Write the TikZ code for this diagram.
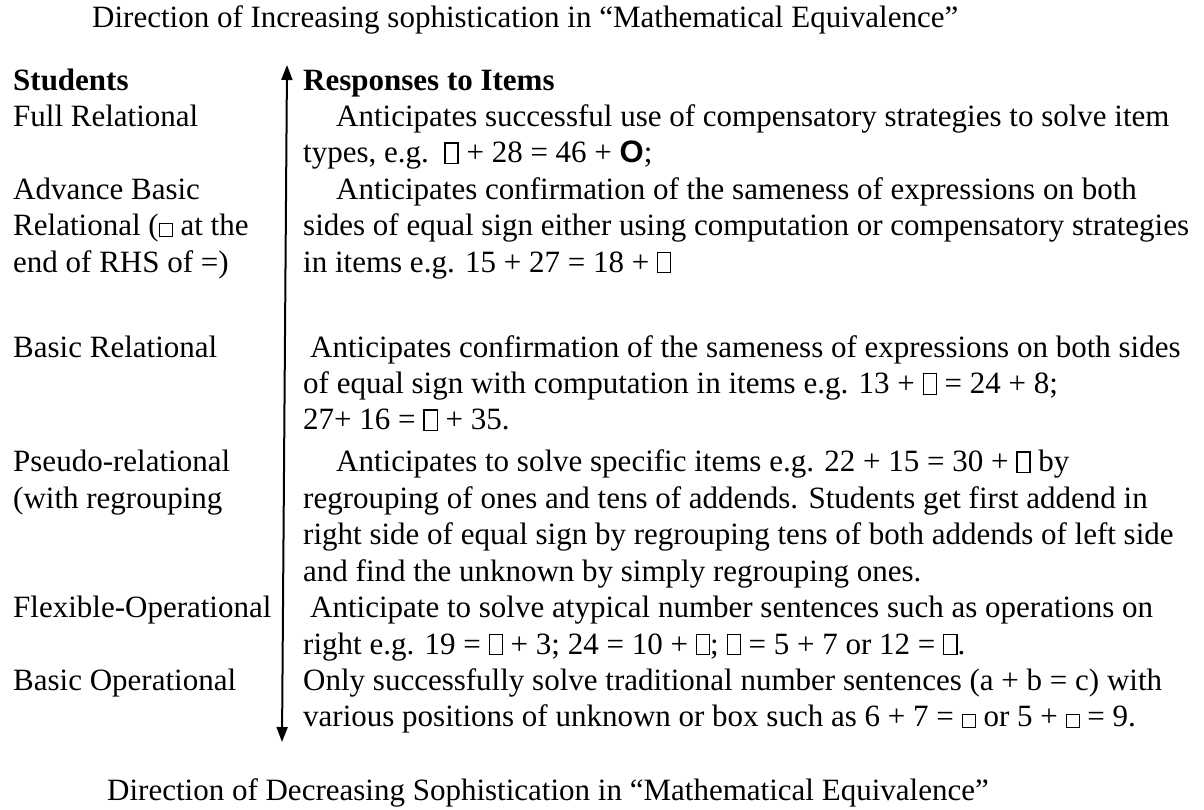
\documentclass[tikz,border=0pt]{standalone}
\usepackage{fontspec}
\setmainfont{Liberation Serif}
\newfontfamily\sansfont{Liberation Sans}
\usetikzlibrary{arrows.meta}
% empty boxes standing for the unknowns
\newcommand\tallbox{{\fboxsep=0pt\fboxrule=1.3pt\fbox{\rule{0pt}{0.62em}\hspace{0.38em}}}}
\newcommand\smallsq{{\fboxsep=0pt\fboxrule=1.2pt\fbox{\rule{0pt}{0.38em}\hspace{0.38em}}}}
\newcommand\circO{{\sansfont\bfseries O}}
\newcommand\rows[1]{\begin{tabular}[t]{@{}l@{}}#1\end{tabular}}

\begin{document}
\begin{tikzpicture}[x=1pt,y=-1pt,
  txt/.style={anchor=base west,inner sep=0pt,font=\fontsize{31}{36.44}\selectfont},
  dirarrow/.style={line width=2pt,{Triangle[width=11pt,length=15pt]}-{Triangle[width=11pt,length=15pt]}}]
\useasboundingbox (0,0) rectangle (1204,809);
\node[txt] (inc) at (92,27) {Direction of Increasing sophistication in “Mathematical Equivalence”};
\node[txt] (dec) at (107,800) {Direction of Decreasing Sophistication in “Mathematical Equivalence”};
% the sophistication axis
\coordinate (top) at (287,65);
\coordinate (bot) at (282,742);
\draw[dirarrow] (bot) -- (top);
% students
\node[txt] (stu) at (13,90) {\textbf{Students}};
\node[txt] (full) at (13,126.4) {Full Relational};
\node[txt] (adv) at (13,199.3) {\rows{Advance Basic\\ Relational (\smallsq{} at the\\ end of RHS of =)}};
\node[txt] (basic) at (13,357.1) {Basic Relational};
\node[txt] (pseudo) at (13,471.9) {\rows{Pseudo-relational\\ (with regrouping}};
\node[txt] (flex) at (13,617.6) {Flexible-Operational};
\node[txt] (bop) at (13,690.5) {Basic Operational};
% responses
\node[txt] (resp) at (303,90) {\textbf{Responses to Items}};
\node[txt] (r1) at (303,126.4) {\rows{\hspace*{33pt}Anticipates successful use of compensatory strategies to solve item\\
  types, e.g.\ \ \tallbox{} + 28 = 46 + \circO;}};
\node[txt] (r2) at (303,199.3) {\rows{\hspace*{33pt}Anticipates confirmation of the sameness of expressions on both\\
  sides of equal sign either using computation or compensatory strategies\\
  in items e.g. 15 + 27 = 18 + \tallbox}};
\node[txt] (r3) at (303,357.1) {\rows{\hspace*{7pt}Anticipates confirmation of the sameness of expressions on both sides\\
  of equal sign with computation in items e.g. 13 + \tallbox{} = 24 + 8;\\
  27+ 16 = \tallbox{} + 35.}};
\node[txt] (r4) at (303,471.9) {\rows{\hspace*{33pt}Anticipates to solve specific items e.g. 22 + 15 = 30 + \tallbox{} by\\
  regrouping of ones and tens of addends. Students get first addend in\\
  right side of equal sign by regrouping tens of both addends of left side\\
  and find the unknown by simply regrouping ones.}};
\node[txt] (r5) at (303,617.6) {\rows{\hspace*{7pt}Anticipate to solve atypical number sentences such as operations on\\
  right e.g. 19 = \tallbox{} + 3; 24 = 10 + \tallbox; \tallbox{} = 5 + 7 or 12 = \tallbox.}};
\node[txt] (r6) at (303,690.5) {\rows{Only successfully solve traditional number sentences (a + b = c) with\\
  various positions of unknown or box such as 6 + 7 = \smallsq{} or 5 + \smallsq{} = 9.}};
\end{tikzpicture}
\end{document}
